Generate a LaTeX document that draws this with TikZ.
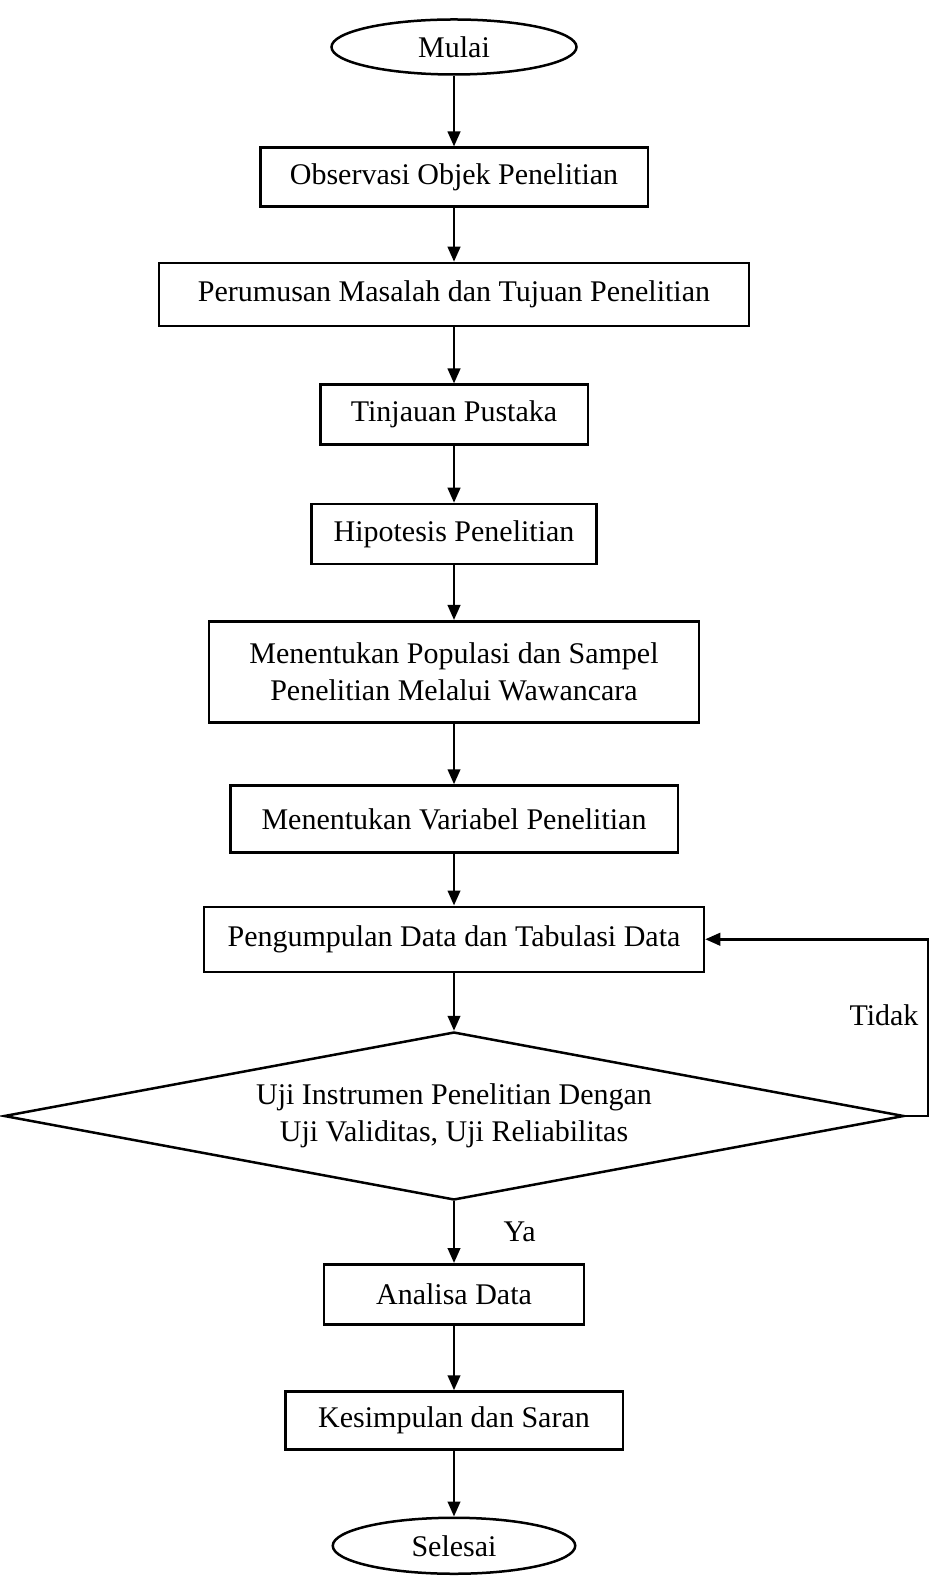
\documentclass[tikz,border=0pt]{standalone}
\usepackage{fontspec}
\setmainfont{Liberation Serif}
\usepackage{tikz}
\usetikzlibrary{arrows.meta,positioning,shapes.geometric}

\begin{document}
\begin{tikzpicture}[node distance=22.5pt, every node/.style={font=\fontsize{12}{15}\selectfont}, blok/.style={draw,line width=1pt,minimum height=24pt,inner sep=2pt,align=center}, oval/.style={draw,ellipse,line width=1pt,inner sep=0pt}, arr/.style={-{Triangle[length=6pt,width=5pt]},line width=1pt}]
    \useasboundingbox (0,0) rectangle (372pt,-630.4pt);
    \node[oval,minimum width=98pt,minimum height=22pt] (mulai) at (181.6pt,-18.8pt) {Mulai};
    \node[blok,minimum width=155pt,minimum height=23.6pt,below=28.3pt of mulai] (obs) {Observasi Objek Penelitian};
    \node[blok,minimum width=236pt,minimum height=25.2pt,below=21.5pt of obs] (rumus) {Perumusan Masalah dan Tujuan Penelitian};
    \node[blok,minimum width=107pt,below=of rumus] (pustaka) {Tinjauan Pustaka};
    \node[blok,minimum width=114pt,below=22.7pt of pustaka] (hipo) {Hipotesis Penelitian};
    \node[blok,minimum width=196pt,minimum height=40.4pt,below=21.9pt of hipo] (populasi) {Menentukan Populasi dan Sampel\\Penelitian Melalui Wawancara};
    \node[blok,minimum width=179pt,minimum height=26.8pt,below=24.3pt of populasi] (variabel) {Menentukan Variabel Penelitian};
    \node[blok,minimum width=200pt,minimum height=26pt,below=20.7pt of variabel] (data) {Pengumpulan Data dan Tabulasi Data};
    \node[draw,diamond,line width=1pt,inner sep=0pt,shape aspect=5.36,minimum width=360pt,minimum height=67.2pt,align=center,below=23.1pt of data] (uji) {Uji Instrumen Penelitian Dengan\\Uji Validitas, Uji Reliabilitas};
    \node[blok,minimum width=104pt,below=24.7pt of uji] (analisa) {Analisa Data};
    \node[blok,minimum width=135pt,minimum height=23.2pt,below=25.9pt of analisa] (simpul) {Kesimpulan dan Saran};
    \node[oval,minimum width=97pt,minimum height=22.4pt,below=26.3pt of simpul] (selesai) {Selesai};
    \coordinate (kanan) at (371.2pt,0);
    \draw[arr] (mulai)--(obs); \draw[arr] (obs)--(rumus); \draw[arr] (rumus)--(pustaka); \draw[arr] (pustaka)--(hipo);
    \draw[arr] (hipo)--(populasi); \draw[arr] (populasi)--(variabel); \draw[arr] (variabel)--(data); \draw[arr] (data)--(uji);
    \draw[arr] (uji)-- node[right=16pt] {Ya} (analisa); \draw[arr] (analisa)--(simpul); \draw[arr] (simpul)--(selesai);
    \draw[arr] (uji.east) -- (uji.east -| kanan) -- node[pos=0.57,left=0pt] {Tidak} (data.east -| kanan) -- (data.east);
  \end{tikzpicture}
\end{document}
